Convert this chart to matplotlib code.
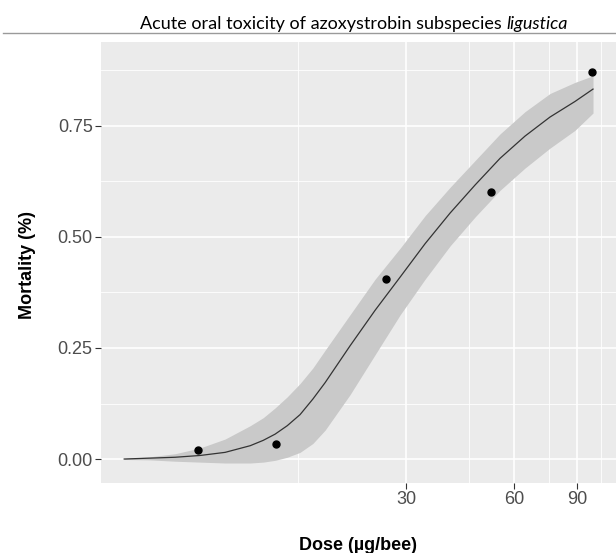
import numpy as np
import matplotlib
matplotlib.use("Agg")
import matplotlib.pyplot as plt
from matplotlib.ticker import FixedLocator, NullFormatter

# ---- data ----
obs_dose = [7.9, 13.0, 26.4, 51.7, 98.8]
obs_mort = [0.020, 0.034, 0.405, 0.601, 0.872]

fit_dose = [4.92, 5.81, 6.83, 8.01, 9.40, 11.04, 12.0, 12.95, 14.0, 15.2, 16.5,
            17.85, 20.95, 24.6, 28.9, 33.9, 39.8, 46.7, 54.8, 64.3, 75.5, 88.6, 99.5]
fit_mid = [0.000, 0.002, 0.004, 0.008, 0.015, 0.030, 0.042, 0.056, 0.075, 0.100, 0.135,
           0.172, 0.255, 0.335, 0.410, 0.485, 0.554, 0.617, 0.677, 0.727, 0.770, 0.805, 0.833]
fit_low = [-0.001, -0.002, -0.005, -0.007, -0.009, -0.009, -0.007, -0.003, 0.004, 0.015, 0.035,
           0.065, 0.145, 0.235, 0.325, 0.405, 0.480, 0.545, 0.605, 0.655, 0.700, 0.740, 0.779]
fit_up = [0.001, 0.005, 0.012, 0.025, 0.045, 0.075, 0.093, 0.115, 0.140, 0.170, 0.205,
          0.245, 0.325, 0.405, 0.475, 0.548, 0.612, 0.672, 0.732, 0.782, 0.823, 0.848, 0.863]

x_major = [30, 60, 90]
x_minor = [15, 45, 75, 105]
x_labels = ["30", "60", "90"]
y_major = [0.0, 0.25, 0.5, 0.75]
y_minor = [0.125, 0.375, 0.625, 0.875]
y_labels = ["0.00", "0.25", "0.50", "0.75"]

title_main = "Acute oral toxicity of azoxystrobin subspecies "
title_ital = "ligustica"
xlabel = "Dose (\u00b5g/bee)"
ylabel = "Mortality (%)"

W, H = 616, 553
fig = plt.figure(figsize=(W / 100, H / 100), dpi=100)
fig.patch.set_facecolor("white")

L, R, T, B = 101, 616, 42, 483
ax = fig.add_axes([L / W, 1 - B / H, (R - L) / W, (B - T) / H])
ax.set_facecolor("#EBEBEB")
ax.set_xscale("log")
ax.set_xlim(4.24, 115.3)
ax.set_ylim(-0.054, 0.939)

# grid
for v in x_minor:
    ax.axvline(v, color="white", lw=0.6, zorder=0.5)
for v in y_minor:
    ax.axhline(v, color="white", lw=0.6, zorder=0.5)
for v in x_major:
    ax.axvline(v, color="white", lw=1.2, zorder=0.6)
for v in y_major:
    ax.axhline(v, color="white", lw=1.2, zorder=0.6)

ax.fill_between(fit_dose, fit_low, fit_up, color="#C9C9C9", lw=0, zorder=1)
ax.plot(fit_dose, fit_mid, color="#333333", lw=0.9, zorder=2)
ax.plot(obs_dose, obs_mort, "o", color="black", ms=5, zorder=3)

for s in ax.spines.values():
    s.set_visible(False)

ax.xaxis.set_major_locator(FixedLocator(x_major))
ax.xaxis.set_minor_locator(FixedLocator([]))
ax.set_xticks(x_major)
ax.set_xticklabels(x_labels)
ax.xaxis.set_minor_formatter(NullFormatter())
ax.set_yticks(y_major)
ax.set_yticklabels(y_labels)
ax.tick_params(axis="both", which="major", length=4, width=0.8, color="#333333",
               labelcolor="#4D4D4D", labelsize=13, pad=2)
for lab in ax.get_xticklabels() + ax.get_yticklabels():
    lab.set_fontfamily("Liberation Sans")

fig.text(358 / W, 1 - 545 / H, xlabel, fontsize=13, fontweight="bold",
         family="Liberation Sans", color="black", ha="center", va="center")
fig.text(27 / W, 1 - 265 / H, ylabel, fontsize=13, fontweight="bold",
         family="Liberation Sans", color="black", ha="center", va="center",
         rotation=90)

# title overlay and rule
fig.add_artist(plt.Line2D([3 / W, 1], [1 - 33 / H, 1 - 33 / H], color="#9A9A9A", lw=1.0))
renderer = fig.canvas.get_renderer()
t1 = fig.text(0, 0, title_main, fontsize=13, family="Lato", color="black")
t2 = fig.text(0, 0, title_ital, fontsize=13, family="Lato", style="italic", color="black")
w1 = t1.get_window_extent(renderer).width
w2 = t2.get_window_extent(renderer).width
cx = 354
x0 = cx - (w1 + w2) / 2
ybase = 1 - 29 / H
t1.set_position((x0 / W, ybase))
t2.set_position(((x0 + w1) / W, ybase))

fig.savefig("out.png", dpi=100)
